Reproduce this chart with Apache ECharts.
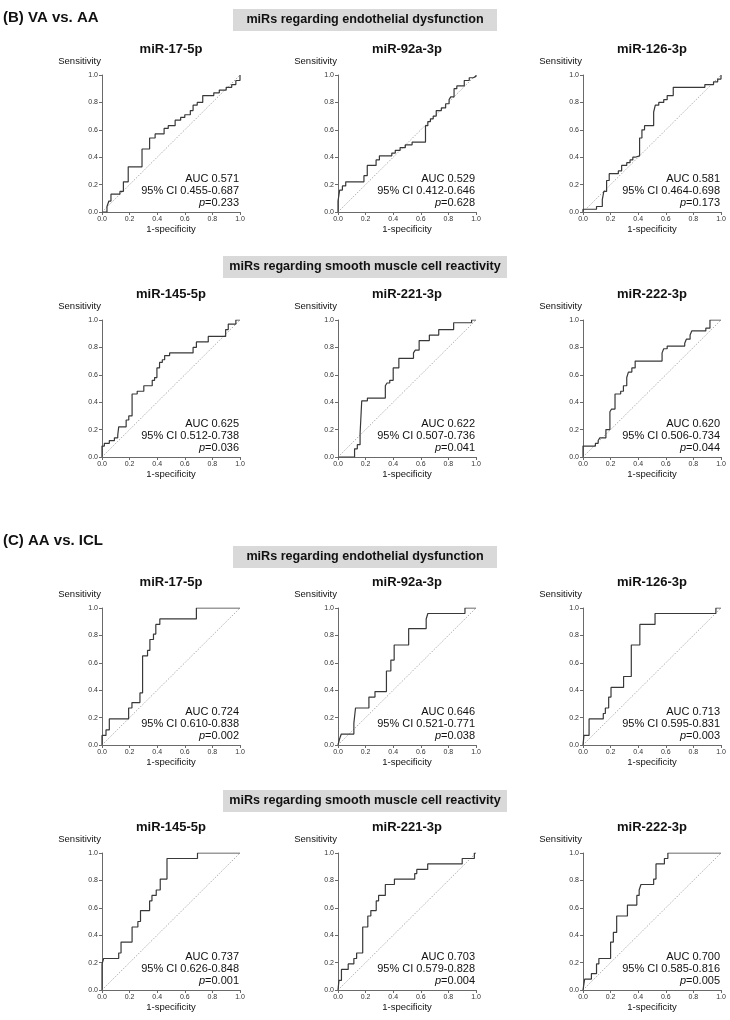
<!DOCTYPE html>
<html>
<head>
<meta charset="utf-8">
<script src="https://cdn.jsdelivr.net/npm/echarts@6/dist/echarts.min.js"></script>
<style>
html,body{margin:0;padding:0;background:#fff;}
#chart{width:730px;height:1020px;}
</style>
</head>
<body>
<div id="chart"></div>
<script>
// ---------- DATA ----------
const mirNames = ['miR-17-5p','miR-92a-3p','miR-126-3p','miR-145-5p','miR-221-3p','miR-222-3p'];
const sectionLabels = ['(B) VA vs. AA', '(C) AA vs. ICL'];
const groupLabels = ['miRs regarding endothelial dysfunction', 'miRs regarding smooth muscle cell reactivity'];
const tickLabels = ['0.0','0.2','0.4','0.6','0.8','1.0'];

// (B) VA vs. AA  ROC curves  [1-specificity, sensitivity]
const vaaa_mir17 = [[0,0],[0.036,0],[0.036,0.04],[0.05,0.04],[0.05,0.08],[0.065,0.08],[0.065,0.13],[0.13,0.13],[0.13,0.15],[0.155,0.15],[0.155,0.22],[0.19,0.22],[0.19,0.33],[0.29,0.33],[0.29,0.46],[0.345,0.46],[0.345,0.54],[0.385,0.54],[0.385,0.57],[0.45,0.57],[0.45,0.61],[0.48,0.61],[0.48,0.63],[0.53,0.63],[0.53,0.67],[0.57,0.67],[0.57,0.69],[0.6,0.69],[0.6,0.71],[0.64,0.71],[0.64,0.74],[0.66,0.74],[0.66,0.78],[0.69,0.78],[0.69,0.8],[0.73,0.8],[0.73,0.85],[0.81,0.85],[0.81,0.87],[0.85,0.87],[0.85,0.89],[0.9,0.89],[0.9,0.91],[0.94,0.91],[0.94,0.93],[0.97,0.93],[0.97,0.96],[1,0.96],[1,1]];
const vaaa_mir92a = [[0,0],[0,0.08],[0.012,0.08],[0.012,0.16],[0.032,0.16],[0.032,0.19],[0.056,0.19],[0.056,0.22],[0.188,0.22],[0.188,0.265],[0.212,0.265],[0.212,0.34],[0.276,0.34],[0.276,0.38],[0.3,0.38],[0.3,0.41],[0.39,0.41],[0.39,0.43],[0.415,0.43],[0.415,0.45],[0.45,0.45],[0.45,0.47],[0.488,0.47],[0.488,0.49],[0.537,0.49],[0.537,0.51],[0.634,0.51],[0.634,0.63],[0.651,0.63],[0.651,0.66],[0.67,0.66],[0.67,0.68],[0.69,0.68],[0.69,0.7],[0.712,0.7],[0.712,0.74],[0.749,0.74],[0.749,0.76],[0.78,0.76],[0.78,0.79],[0.805,0.79],[0.805,0.82],[0.817,0.82],[0.817,0.84],[0.841,0.84],[0.841,0.9],[0.861,0.9],[0.861,0.92],[0.915,0.92],[0.915,0.96],[0.951,0.96],[0.951,0.98],[0.98,0.98],[0.98,0.99],[1,0.99],[1,1]];
const vaaa_mir126 = [[0,0],[0,0.02],[0.098,0.02],[0.098,0.04],[0.14,0.04],[0.14,0.09],[0.151,0.09],[0.151,0.15],[0.171,0.15],[0.171,0.23],[0.19,0.23],[0.19,0.28],[0.256,0.28],[0.256,0.3],[0.28,0.3],[0.28,0.34],[0.317,0.34],[0.317,0.36],[0.341,0.36],[0.341,0.38],[0.361,0.38],[0.361,0.4],[0.378,0.4],[0.378,0.41],[0.41,0.41],[0.41,0.54],[0.427,0.54],[0.427,0.6],[0.446,0.6],[0.446,0.63],[0.512,0.63],[0.512,0.73],[0.524,0.73],[0.524,0.78],[0.549,0.78],[0.549,0.8],[0.585,0.8],[0.585,0.82],[0.61,0.82],[0.61,0.85],[0.654,0.85],[0.654,0.91],[0.883,0.91],[0.883,0.93],[0.946,0.93],[0.946,0.95],[0.976,0.95],[0.976,0.97],[1,0.97],[1,1]];
const vaaa_mir145 = [[0,0],[0,0.08],[0.017,0.08],[0.017,0.1],[0.053,0.1],[0.053,0.12],[0.09,0.12],[0.09,0.14],[0.114,0.14],[0.114,0.16],[0.121,0.16],[0.121,0.22],[0.175,0.22],[0.175,0.27],[0.194,0.27],[0.194,0.3],[0.218,0.3],[0.218,0.46],[0.255,0.46],[0.255,0.48],[0.303,0.48],[0.303,0.52],[0.364,0.52],[0.364,0.56],[0.381,0.56],[0.381,0.58],[0.398,0.58],[0.398,0.65],[0.417,0.65],[0.417,0.69],[0.437,0.69],[0.437,0.71],[0.454,0.71],[0.454,0.74],[0.49,0.74],[0.49,0.76],[0.66,0.76],[0.66,0.8],[0.684,0.8],[0.684,0.84],[0.77,0.84],[0.77,0.88],[0.896,0.88],[0.896,0.93],[0.915,0.93],[0.915,0.97],[0.97,0.97],[0.97,1],[1,1]];
const vaaa_mir221 = [[0,0],[0.12,0],[0.12,0.06],[0.14,0.06],[0.14,0.09],[0.16,0.09],[0.16,0.17],[0.172,0.17],[0.172,0.41],[0.213,0.41],[0.213,0.43],[0.343,0.43],[0.343,0.52],[0.355,0.52],[0.355,0.54],[0.375,0.54],[0.375,0.56],[0.4,0.56],[0.4,0.65],[0.441,0.65],[0.441,0.72],[0.547,0.72],[0.547,0.76],[0.56,0.76],[0.56,0.78],[0.588,0.78],[0.588,0.85],[0.662,0.85],[0.662,0.89],[0.73,0.89],[0.73,0.93],[0.838,0.93],[0.838,0.98],[0.968,0.98],[0.968,1],[1,1]];
const vaaa_mir222 = [[0,0],[0,0.08],[0.09,0.08],[0.09,0.1],[0.11,0.1],[0.11,0.12],[0.122,0.12],[0.122,0.14],[0.166,0.14],[0.166,0.2],[0.195,0.2],[0.195,0.33],[0.207,0.33],[0.207,0.35],[0.232,0.35],[0.232,0.46],[0.273,0.46],[0.273,0.48],[0.293,0.48],[0.293,0.52],[0.317,0.52],[0.317,0.58],[0.329,0.58],[0.329,0.62],[0.354,0.62],[0.354,0.65],[0.378,0.65],[0.378,0.7],[0.573,0.7],[0.573,0.76],[0.585,0.76],[0.585,0.79],[0.61,0.79],[0.61,0.81],[0.737,0.81],[0.737,0.83],[0.749,0.83],[0.749,0.86],[0.776,0.86],[0.776,0.89],[0.788,0.89],[0.788,0.92],[0.89,0.92],[0.89,0.94],[0.92,0.94],[0.92,1],[1,1]];

// (C) AA vs. ICL ROC curves
const aaicl_mir17 = [[0,0],[0,0.07],[0.029,0.07],[0.029,0.11],[0.053,0.11],[0.053,0.19],[0.193,0.19],[0.193,0.27],[0.217,0.27],[0.217,0.31],[0.275,0.31],[0.275,0.38],[0.294,0.38],[0.294,0.65],[0.33,0.65],[0.33,0.69],[0.347,0.69],[0.347,0.77],[0.373,0.77],[0.373,0.81],[0.39,0.81],[0.39,0.88],[0.419,0.88],[0.419,0.92],[0.684,0.92],[0.684,1],[1,1]];
const aaicl_mir92a = [[0,0],[0.01,0],[0.01,0.04],[0.024,0.04],[0.024,0.08],[0.115,0.08],[0.115,0.16],[0.127,0.16],[0.127,0.27],[0.224,0.27],[0.224,0.35],[0.268,0.35],[0.268,0.39],[0.351,0.39],[0.351,0.54],[0.383,0.54],[0.383,0.62],[0.407,0.62],[0.407,0.73],[0.512,0.73],[0.512,0.85],[0.639,0.85],[0.639,0.92],[0.651,0.92],[0.651,0.96],[0.92,0.96],[0.92,1],[1,1]];
const aaicl_mir126 = [[0,0],[0.007,0],[0.007,0.07],[0.044,0.07],[0.044,0.19],[0.147,0.19],[0.147,0.23],[0.162,0.23],[0.162,0.27],[0.186,0.27],[0.186,0.35],[0.203,0.35],[0.203,0.42],[0.294,0.42],[0.294,0.5],[0.35,0.5],[0.35,0.73],[0.412,0.73],[0.412,0.88],[0.522,0.88],[0.522,0.96],[0.963,0.96],[0.963,1],[1,1]];
const aaicl_mir145 = [[0,0],[0,0.19],[0.012,0.19],[0.012,0.23],[0.121,0.23],[0.121,0.27],[0.138,0.27],[0.138,0.35],[0.218,0.35],[0.218,0.46],[0.26,0.46],[0.26,0.5],[0.279,0.5],[0.279,0.58],[0.345,0.58],[0.345,0.65],[0.362,0.65],[0.362,0.69],[0.393,0.69],[0.393,0.73],[0.422,0.73],[0.422,0.81],[0.471,0.81],[0.471,0.96],[0.692,0.96],[0.692,1],[1,1]];
const aaicl_mir221 = [[0,0],[0.007,0],[0.007,0.07],[0.025,0.07],[0.025,0.15],[0.074,0.15],[0.074,0.19],[0.115,0.19],[0.115,0.23],[0.135,0.23],[0.135,0.27],[0.179,0.27],[0.179,0.46],[0.216,0.46],[0.216,0.54],[0.238,0.54],[0.238,0.58],[0.277,0.58],[0.277,0.65],[0.294,0.65],[0.294,0.69],[0.343,0.69],[0.343,0.77],[0.409,0.77],[0.409,0.81],[0.556,0.81],[0.556,0.85],[0.571,0.85],[0.571,0.88],[0.65,0.88],[0.65,0.92],[0.9,0.92],[0.9,0.96],[0.988,0.96],[0.988,1],[1,1]];
const aaicl_mir222 = [[0,0],[0.012,0],[0.012,0.08],[0.061,0.08],[0.061,0.12],[0.098,0.12],[0.098,0.19],[0.115,0.19],[0.115,0.23],[0.2,0.23],[0.2,0.35],[0.22,0.35],[0.22,0.42],[0.244,0.42],[0.244,0.54],[0.322,0.54],[0.322,0.62],[0.39,0.62],[0.39,0.69],[0.407,0.69],[0.407,0.73],[0.42,0.73],[0.42,0.77],[0.512,0.77],[0.512,0.81],[0.529,0.81],[0.529,0.92],[0.59,0.92],[0.59,0.96],[0.615,0.96],[0.615,1],[1,1]];

const refDiagonal = [[0,0],[1,1]];

const vaaa_auc = ['0.571','0.529','0.581','0.625','0.622','0.620'];
const vaaa_ci  = ['0.455-0.687','0.412-0.646','0.464-0.698','0.512-0.738','0.507-0.736','0.506-0.734'];
const vaaa_p   = ['0.233','0.628','0.173','0.036','0.041','0.044'];
const aaicl_auc = ['0.724','0.646','0.713','0.737','0.703','0.700'];
const aaicl_ci  = ['0.610-0.838','0.521-0.771','0.595-0.831','0.626-0.848','0.579-0.828','0.585-0.816'];
const aaicl_p   = ['0.002','0.038','0.003','0.001','0.004','0.005'];

// ---------- LAYOUT ----------
const FONT = 'Arial, "Liberation Sans", Helvetica, sans-serif';
const colX = [102, 338, 583];
const rowY = [75, 320, 608, 853];
const PW = 138, PH = 137;
const bannerY = [20, 267, 557, 801];
const bannerW = [264, 284, 264, 284];
const sectionY = [18, 541];

const curves = [vaaa_mir17, vaaa_mir92a, vaaa_mir126, vaaa_mir145, vaaa_mir221, vaaa_mir222,
                aaicl_mir17, aaicl_mir92a, aaicl_mir126, aaicl_mir145, aaicl_mir221, aaicl_mir222];
const aucs = vaaa_auc.concat(aaicl_auc);
const cis = vaaa_ci.concat(aaicl_ci);
const ps = vaaa_p.concat(aaicl_p);

const grids = [], xAxes = [], yAxes = [], series = [], graphics = [];
const axisCol = '#6a6a6a';

function txt(text, x, y, size, weight, align, vAlign, extra) {
  return {
    type: 'text', silent: true,
    style: Object.assign({
      text: text, x: x, y: y, fill: '#111',
      fontSize: size, fontWeight: weight, fontFamily: FONT,
      align: align, textAlign: align, verticalAlign: vAlign, textVerticalAlign: vAlign
    }, extra || {})
  };
}

for (let i = 0; i < 12; i++) {
  const r = Math.floor(i / 3), c = i % 3;
  const x0 = colX[c], y1 = rowY[r], y0 = y1 + PH, x1 = x0 + PW;
  grids.push({ left: x0, top: y1, width: PW, height: PH });
  const axisCommon = {
    gridIndex: i, type: 'value', min: 0, max: 1, interval: 0.2,
    axisLine: { show: true, onZero: false, lineStyle: { color: axisCol, width: 1 } },
    axisTick: { show: true, length: 3, inside: false, lineStyle: { color: axisCol, width: 1 } },
    axisLabel: { fontSize: 7, color: '#333', fontFamily: FONT, margin: 4,
      formatter: function (v) { return tickLabels[Math.round(v * 5)]; } },
    splitLine: { show: false }
  };
  xAxes.push(Object.assign({}, axisCommon));
  yAxes.push(Object.assign({}, axisCommon));
  series.push({
    type: 'line', xAxisIndex: i, yAxisIndex: i, data: refDiagonal, showSymbol: false, silent: true,
    lineStyle: { color: '#9a9a9a', width: 0.8, type: [1.5, 1.5] }, z: 1
  });
  series.push({
    type: 'line', xAxisIndex: i, yAxisIndex: i, data: curves[i], showSymbol: false, silent: true,
    lineStyle: { color: '#383838', width: 1.2 }, z: 2
  });

  graphics.push(txt(mirNames[i % 6], x0 + PW / 2, y1 - 26, 13, 'bold', 'center', 'middle'));
  graphics.push(txt('Sensitivity', x0 - 1, y1 - 13.5, 9.5, 'normal', 'right', 'middle'));
  graphics.push(txt('1-specificity', x0 + PW / 2, y0 + 17, 9.5, 'normal', 'center', 'middle'));
  const tx = x1 - 1;
  graphics.push(txt('AUC ' + aucs[i], tx, y0 - 33.5, 11, 'normal', 'right', 'middle'));
  graphics.push(txt('95% CI ' + cis[i], tx, y0 - 21.3, 11, 'normal', 'right', 'middle'));
  graphics.push(txt('{i|p}=' + ps[i], tx, y0 - 9, 11, 'normal', 'right', 'middle',
    { rich: { i: { fontStyle: 'italic', fontSize: 11, fontFamily: FONT, fill: '#111' } } }));
}

for (let r = 0; r < 4; r++) {
  const w = bannerW[r];
  graphics.push({ type: 'rect', silent: true, shape: { x: 365 - w / 2, y: bannerY[r] - 11, width: w, height: 22 },
    style: { fill: '#d9d9d9' } });
  graphics.push(txt(groupLabels[r % 2], 365, bannerY[r], 12.6, 'bold', 'center', 'middle'));
}
graphics.push(txt(sectionLabels[0], 3, sectionY[0], 15, 'bold', 'left', 'middle'));
graphics.push(txt(sectionLabels[1], 3, sectionY[1], 15, 'bold', 'left', 'middle'));

const chart = echarts.init(document.getElementById('chart'), null, { renderer: 'canvas' });
chart.setOption({
  animation: false,
  backgroundColor: '#fff',
  grid: grids, xAxis: xAxes, yAxis: yAxes, series: series,
  graphic: { elements: graphics }
});
</script>
</body>
</html>
